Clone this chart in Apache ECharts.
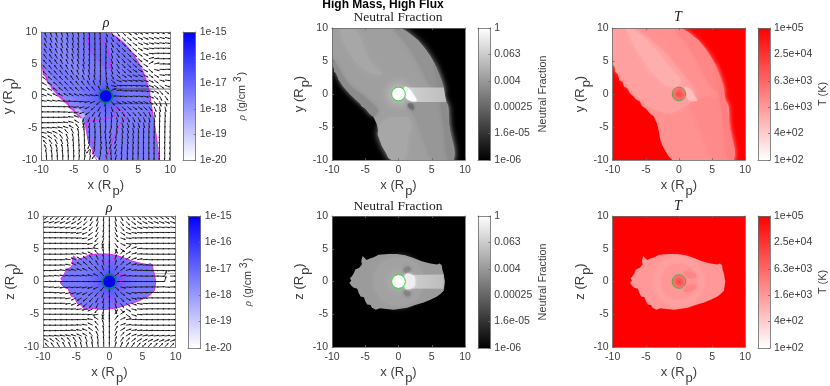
<!DOCTYPE html>
<html><head><meta charset="utf-8">
<script src="https://cdn.jsdelivr.net/npm/echarts@6/dist/echarts.min.js"></script>
<style>html,body{margin:0;padding:0;background:#fff}#c{width:830px;height:386px;filter:blur(0.35px)}</style>
</head><body><div id="c"></div>
<script>
// ---------- tick labels ----------
const AXIS_TICKS=[-10,-5,0,5,10];
const RHO_TICKS=['1e-20','1e-19','1e-18','1e-17','1e-16','1e-15'];
const NEUTRAL_TICKS=['1e-06','1.6e-05','0.00025','0.004','0.063','1'];
const TEMP_TICKS=['1e+02','4e+02','1.6e+03','6.3e+03','2.5e+04','1e+05'];
// ---------- region outlines, data units (R_p) ----------
const OUTLINE_XY=[[.23,10],[1.73,9.14],[2.98,8.14],[3.98,6.88],[4.99,5.37],[5.74,3.85],[6.34,2.09],[6.84,.08],[7.24,-2.44],[7.64,-4.96],[7.99,-7.48],[8.25,-10],[-1,-10],[-1.6,-9.4],[-2,-8.7],[-2.5,-7.8],[-2.8,-7],[-3.05,-5.6],[-3.3,-4.5],[-3.8,-3.4],[-4.4,-2.9],[-5,-2.2],[-5.6,-1.8],[-5.9,-1.1],[-6.5,-.8],[-6.8,-.4],[-7.4,.1],[-7.8,.9],[-8.3,1.1],[-8.5,1.8],[-9,2.1],[-9.2,3],[-9.7,3.4],[-9.6,4],[-10,4.6],[-10,10]];
const OUTLINE_XZ=[[-0.25,4.2],[1,4],[2.26,3.6],[3.5,3.1],[4.8,2.75],[5.8,2.6],[6.2,2.75],[6.5,2.5],[6.6,1.8],[6.8,1.1],[6.9,.5],[7,0],[6.9,-.7],[6.8,-1.4],[6.3,-1.9],[5.8,-2.3],[4.8,-2.8],[3.8,-3.2],[2.5,-3.6],[1.3,-4],[-.75,-4.3],[-1.8,-4.2],[-2.8,-4.1],[-3.4,-4.3],[-4,-4],[-4.2,-3.6],[-4.7,-3.5],[-5,-3],[-5.2,-2.4],[-5.7,-2.3],[-6,-1.7],[-6.2,-1.1],[-6.8,-.9],[-7.1,-.6],[-7.4,-.2],[-7.1,.1],[-7.3,.5],[-7,.8],[-6.7,1.3],[-6.5,1.85],[-5.9,2.1],[-5.5,2.6],[-5.6,3.1],[-5.4,3.9],[-4.8,3.3],[-4.3,3.5],[-3.7,3.7],[-3,4.1],[-1.5,4.2]];
// ---------- sub-regions ----------
const UPPER_BAND=[[-.8,10],[.23,10],[1.73,9.14],[3.98,6.88],[5.74,3.85],[6.84,.08],[5,1],[3,4.6],[1.2,7.5]];
const LOWER_BAND=[[1.5,-1.4],[6.9,-1],[7.64,-4.96],[8.25,-10],[5.2,-10],[3.8,-7],[2.5,-3.5]];
const LOWER_LOBE=[[-1,-10],[-2,-8.7],[-2.8,-7],[-3.05,-5.6],[-2,-4],[.5,-3.5],[1.8,-4],[1.4,-7],[.8,-10]];
const STREAK_Y=[[-8.6,10],[-6.8,10],[-4.2,5],[-2.5,3],[-5,3.6],[-7.5,6.5]];
const LEFT_STRIP=[[-10,4.6],[-8.3,1.1],[-5,-2.2],[-3.8,-3.4],[-3.1,-2.4],[-5,-.5],[-7.5,1.5],[-10,5.6]];
const RIM_Y=[[5.3,4.7],[5.74,3.85],[6.84,.08],[7.64,-4.96],[8.25,-10],[7.4,-10],[6.8,-5],[6.1,-.4]];
const BEAM_Y=[[1,.98],[6.8,.98],[7.2,-1.2],[1.8,-1.2]];
const CRESCENT_Y=[[.9,1],[1.7,.7],[2.3,-.2],[2.7,-1],[1.8,-1],[1.2,-.6]];
const DARK_BLOB=[[1.4,-1.6],[2.1,-1.5],[2.3,-2.3],[1.7,-2.2]];
const HOT_LOBE=[[-6.9,10],[-2.4,6.6],[.6,3],[2.5,.3],[1.6,-1.4],[-1.4,-3],[-4.4,-2],[-7,.3],[-9.2,3.2],[-10,4.7],[-10,10]];
const PALE_STREAK=[[-7.9,10],[-7.2,10],[-4,7.2],[-1.5,4.2],[.3,1.8],[-1.5,1.2],[-3,2.2],[-5.3,5]];
const PLUME_Y=[[-2.87,9.8],[-2.45,7.2],[-1.4,5.9],[.13,4.4],[.8,4.4],[.4,7.2],[-.3,10]];
const PALE_PATCH=[[-5,-2.2],[-3.8,-3.4],[-3.3,-3.7],[-3.3,-2.9],[-4.3,-2]];
const BEAM_Z=[[1,1],[6.8,1.05],[6.8,-1.1],[1,-1.05]];
const SPECK_Z=[[1,1],[2.2,.9],[2.5,-.1],[2.2,-.9],[1,-1]];
const WING_UP=[[.8,1.5],[1.5,1.4],[1.8,2.1],[1.1,2.2]];
const WING_DOWN=[[.8,-1.5],[1.5,-1.4],[1.8,-2.1],[1.1,-2.2]];
const T_WING_UP=[[.8,1.5],[2.4,1.2],[2.5,.6],[1.2,.7]];
const T_WING_DOWN=[[.8,-1.5],[2.4,-1.2],[2.5,-.6],[1.2,-.7]];
const RING_OUT=[[3.7,0],[3.2,1.9],[1.9,3.2],[0,3.7],[-1.9,3.2],[-3.2,1.9],[-3.7,0],[-3.2,-1.9],[-1.9,-3.2],[0,-3.7],[1.9,-3.2],[3.2,-1.9]];
const RING_IN=[[2.7,0],[2.3,1.4],[1.4,2.3],[0,2.7],[-1.4,2.3],[-2.3,1.4],[-2.7,0],[-2.3,-1.4],[-1.4,-2.3],[0,-2.7],[1.4,-2.3],[2.3,-1.4]];
// ---------- contour lines ----------
const CONTOUR_XY_RIGHT=OUTLINE_XY.slice(0,12);
const CONTOUR_XY_LEFT=OUTLINE_XY.slice(19,35);
const CONTOUR_XY_UP=[[-2.87,9.8],[-2.45,7.2],[-1.4,5.9],[.13,4.4],[.8,4.4],[.4,7.2],[-.9,9.3],[-1.1,10]];
const CONTOUR_XY_LOW1=[[-3.1,-3.6],[-2.3,-3.9],[-.2,-3.6],[1.4,-3.1],[1.6,-1.9],[2.7,-2.4],[3.2,-3.7],[2.7,-3.7],[2,-4.8],[1.1,-6.8],[.4,-8.9],[.1,-10]];
const CONTOUR_XY_LOW2=[[-3.1,-3.6],[-2.8,-6.8],[-1.9,-7.4],[-2.1,-8.9],[-1.4,-10]];
const CONTOUR_XZ_TOP=[[-1.4,3.33],[-.4,2.8],[.6,2.8],[.9,4]];
const CONTOUR_XZ_BOT=[[-1.4,-3.4],[-.4,-2.3],[.9,-2.9],[1.1,-3.7]];
const CONTOUR_XZ_RIGHT=[[.6,1.2],[2.1,1.1],[2.4,.7],[1.5,0],[2.4,-.7],[2.4,-1.2],[.9,-1.2]];
const TERMINATOR_UP=[[1,1.09],[10,1.09]];
const TERMINATOR_DOWN=[[1,-1.2],[10,-1.2]];
const TERMINATOR_Z=[[1,1.2],[10,1.2]];
// ---------- velocity field, arrow directions in degrees, rows from top to bottom ----------
const FIELD_COLS=[-10,-9.17,-8.33,-7.5,-6.67,-5.83,-5,-4.17,-3.33,-2.5,-1.67,-.83,0,.83,1.67,2.5,3.33,4.17,5,5.83,6.67,7.5,8.33,9.17,10];
const FIELD_ROWS=[10,9.17,8.33,7.5,6.67,5.83,5,4.17,3.33,2.5,1.67,.83,0,-.83,-1.67,-2.5,-3.33,-4.17,-5,-5.83,-6.67,-7.5,-8.33,-9.17,-10];
const ANGLES_XY=[
[110,110,108,106,104,102,100,98,97,96,95,96,-70,-62,-55,-45,-35,-28,-25,-22,-20,-18,-18,-15,-15],
[112,112,110,108,106,104,101,99,97,96,95,97,-75,-62,-52,-45,-38,-30,-25,-22,-20,-18,-15,-15,-12],
[115,114,112,110,108,105,103,100,98,96,94,96,-85,-65,-52,-45,-40,-34,-25,-20,-15,-12,-10,-10,-10],
[118,116,114,112,110,107,104,101,98,95,93,92,-85,-68,-55,-48,-42,-38,-30,-15,-8,-5,-5,-5,-5],
[122,120,118,115,112,109,106,103,99,96,93,91,-88,-72,-58,-50,-44,-40,-35,-25,-5,0,0,-2,-2],
[126,124,121,118,115,111,108,104,100,96,93,90,-88,-74,-60,-52,-46,-42,-38,-30,15,5,0,0,0],
[130,128,125,122,118,114,110,106,102,97,93,90,-90,-75,-60,-50,-45,-40,-36,-32,30,12,2,0,0],
[134,132,129,126,122,118,114,109,104,99,94,90,-85,-70,-55,-45,-38,-34,-30,-30,-40,-15,-3,0,0],
[140,138,134,130,126,122,118,113,108,102,96,90,-80,-60,-42,-32,-28,-25,-25,-28,-35,-30,-8,-3,-3],
[148,144,140,136,132,128,124,120,114,108,100,90,-70,-40,-22,-16,-14,-14,-16,-20,-28,-38,-15,-8,-6],
[155,150,146,142,138,134,130,128,124,118,110,95,-50,-15,-6,-5,-6,-8,-10,-14,-22,-35,-35,-18,-12],
[158,155,150,146,142,140,138,138,136,134,130,115,70,25,8,-2,-3,-4,-6,-10,-16,-30,-50,-40,-28],
[165,160,155,152,150,150,152,155,158,160,165,170,0,0,-5,-8,-8,-6,-8,-14,-24,-42,-62,-55,-45],
[172,170,168,168,170,175,178,182,186,192,200,220,-100,-50,-30,-25,-22,-20,-22,-26,-36,-55,-72,-68,-60],
[176,176,176,177,178,180,183,188,195,205,220,240,-95,-70,-50,-42,-38,-35,-36,-42,-55,-68,-80,-78,-75],
[178,178,178,178,178,180,185,190,200,215,235,250,-95,-80,-68,-58,-52,-50,-52,-58,-68,-78,-85,-85,-85],
[180,180,180,180,180,178,172,160,250,250,255,260,-95,-85,-78,-70,-65,-64,-65,-70,-78,-84,-88,-88,-88],
[180,180,180,178,176,172,164,148,255,262,265,268,-92,-88,-82,-75,-72,-72,-74,-78,-84,-88,-90,-90,-90],
[178,176,174,172,168,160,150,128,105,265,270,272,-100,-105,-85,-78,-75,-78,-82,-86,-88,-90,-92,-92,-92],
[172,168,162,155,145,132,118,105,95,-95,-90,-85,-95,-108,-100,-82,-78,-80,-84,-87,-89,-91,-93,-93,-93],
[160,152,145,135,125,115,105,98,90,-100,-95,-80,-85,-110,-110,-85,-80,-82,-85,-88,-90,-92,-94,-94,-94],
[140,132,125,118,112,105,98,92,88,-110,-100,-80,-80,-105,-112,-92,-84,-84,-86,-88,-90,-92,-94,-95,-95],
[120,116,112,108,104,98,93,88,85,-130,-115,-90,-75,-95,-108,-98,-88,-86,-88,-89,-90,-92,-94,-95,-96],
[105,102,100,98,96,92,88,85,82,80,-125,-105,-80,-90,-105,-98,-90,-88,-88,-89,-90,-92,-94,-95,-96],
[95,94,93,92,90,88,86,84,82,80,-135,-115,-90,-92,-100,-96,-90,-88,-88,-89,-90,-92,-94,-95,-96]];
const ANGLES_XZ=[
[218,218,220,222,224,226,230,234,238,244,254,265,-90,-75,-62,-52,-46,-42,-40,-38,-36,-36,-36,-36,-36],
[195,195,196,198,200,204,208,214,224,236,250,265,-90,-72,-55,-45,-36,-30,-26,-22,-20,-20,-20,-20,-20],
[185,185,186,188,190,193,197,203,212,225,245,262,-90,-68,-45,-32,-22,-16,-12,-10,-8,-8,-8,-8,-8],
[180,180,180,181,182,184,187,192,200,215,238,260,-90,-60,-32,-18,-10,-6,-4,-3,-2,-2,-2,-2,-2],
[180,180,180,180,180,181,182,185,190,205,230,255,-90,-50,-20,-8,-3,-1,0,0,0,0,0,0,0],
[180,180,180,180,180,180,180,181,183,190,215,250,-90,-55,-25,-10,-5,-2,0,0,0,0,0,0,0],
[180,180,180,180,180,180,180,180,178,175,170,110,90,-60,-35,35,20,5,0,0,0,0,0,0,0],
[180,180,180,180,180,178,176,172,165,155,130,100,90,70,50,30,15,5,2,0,0,0,0,0,0],
[180,180,180,180,180,172,160,150,140,128,115,100,90,72,52,35,20,10,3,0,0,0,0,0,0],
[180,180,180,180,178,170,155,150,140,130,118,102,90,72,48,28,15,8,3,0,0,0,0,0,0],
[180,180,180,176,172,165,165,160,155,145,130,110,90,60,35,18,8,4,2,0,0,0,-3,0,0],
[180,180,176,172,170,172,172,172,170,165,155,130,90,40,12,5,2,1,0,0,0,-3,70,0,0],
[180,180,178,178,180,180,180,180,180,180,180,180,0,0,0,0,0,0,0,0,0,0,75,5,0],
[180,180,184,188,190,188,188,188,190,195,205,230,-90,-40,-12,-5,-2,-1,0,0,0,2,-4,0,0],
[180,180,180,184,188,195,195,200,205,215,230,250,-90,-60,-35,-18,-8,-4,-2,0,0,2,2,0,0],
[180,180,180,180,182,190,205,210,220,230,242,258,-90,-72,-48,-28,-15,-8,-3,0,0,0,0,0,0],
[180,180,180,180,180,188,200,210,220,232,245,260,-90,-72,-52,-35,-20,-10,-3,0,0,0,0,0,0],
[180,180,180,180,180,182,184,188,195,205,230,260,-90,-70,-50,-30,-15,-5,-2,0,0,0,0,0,0],
[180,180,180,180,180,180,180,180,182,185,190,250,-90,60,35,-35,-20,-5,0,0,0,0,0,0,0],
[180,180,180,180,180,180,180,179,177,170,145,110,90,55,25,10,5,2,0,0,0,0,0,0,0],
[180,180,180,180,180,179,178,175,170,155,130,105,90,50,20,8,3,1,0,0,0,0,0,0,0],
[180,180,180,179,178,177,173,168,160,145,122,100,90,60,32,18,10,6,4,3,2,2,2,2,2],
[175,175,174,172,170,167,163,157,148,135,115,98,90,68,45,32,22,16,12,10,8,8,8,8,8],
[150,148,145,140,135,130,125,120,114,108,100,95,90,72,55,45,38,32,28,26,24,22,22,22,22],
[135,130,125,120,116,112,108,105,102,100,96,93,90,75,68,60,56,52,50,48,46,45,45,45,45]];
// ---------- colour maps: log10 value to colour ----------
const clamp=f=>Math.max(0,Math.min(1,f));
const rhoColor=v=>{const f=clamp((v+20)/5),c=Math.round(255*(1-f));return `rgb(${c},${c},255)`;};
const neutralColor=v=>{const c=Math.round(255*clamp((v+6)/6));return `rgb(${c},${c},${c})`;};
const tempColor=v=>{const c=Math.round(255*(1-clamp((v-2)/3)));return `rgb(255,${c},${c})`;};
const fade=col=>col.replace('rgb(','rgba(').replace(')',',0)');
const TEXT='#3c3c3c', MAG='#f020f0', GREEN='#37d837';
// ---------- layer lists per panel ----------
const RHO_XY_LAYERS=[
 {pts:OUTLINE_XY,v:-17.4},
 {pts:STREAK_Y,v:-17.6,blur:6,sm:.5},
 {pts:LEFT_STRIP,v:-17.6,blur:3,sm:.3},
 {pts:UPPER_BAND,v:-17.25,blur:4,sm:.3},
 {pts:PLUME_Y,v:-17.1,blur:4,sm:.5},
 {pts:OUTLINE_XY,c:[0,0],r:5,v0:-16.3,v1:-17.4},
 {pts:PALE_PATCH,v:-18.6,blur:2},
 {line:CONTOUR_XY_RIGHT,stroke:MAG,w:1},{line:CONTOUR_XY_LEFT,stroke:MAG,w:1.4},
 {line:CONTOUR_XY_UP,stroke:MAG,w:.9},{line:CONTOUR_XY_LOW1,stroke:MAG,w:.9},{line:CONTOUR_XY_LOW2,stroke:MAG,w:.9},
 {line:TERMINATOR_UP,stroke:'#333',w:.7},{line:TERMINATOR_DOWN,stroke:'#333',w:.7}];
const RHO_XZ_LAYERS=[
 {pts:OUTLINE_XZ,v:-17.35},
 {pts:OUTLINE_XZ,c:[0,0],r:5,v0:-16.2,v1:-17.35},
 {line:OUTLINE_XZ.concat([OUTLINE_XZ[0]]),stroke:MAG,w:1},
 {line:CONTOUR_XZ_TOP,stroke:MAG,w:.9},{line:CONTOUR_XZ_BOT,stroke:MAG,w:.9},{line:CONTOUR_XZ_RIGHT,stroke:MAG,w:.9},
 {line:TERMINATOR_Z,stroke:'#888',w:.6}];
const NEUTRAL_XY_LAYERS=[
 {pts:OUTLINE_XY,v:-2.25},
 {pts:UPPER_BAND,v:-2.55,blur:6,sm:.4},
 {pts:LOWER_BAND,v:-2.45,blur:6,sm:.4},
 {pts:RIM_Y,v:-2.7,blur:5,sm:.4},
 {pts:LOWER_LOBE,v:-2.08,blur:6,sm:.6},
 {pts:STREAK_Y,v:-2.08,blur:7,sm:.5},
 {pts:LEFT_STRIP,v:-2.7,blur:5,sm:.3},
 {pts:OUTLINE_XY,c:[0,0],r:3.2,v0:-1.1,v1:-2.25},
 {pts:BEAM_Y,grad:[-1.05,-1.55]},
 {pts:DARK_BLOB,v:-3.4,blur:3,sm:.5},
 {pts:CRESCENT_Y,v:-.05,blur:2,sm:.4}];
const NEUTRAL_XZ_LAYERS=[
 {pts:OUTLINE_XZ,v:-2.35},
 {pts:RING_OUT,v:-2.18,blur:6,sm:.6},
 {pts:OUTLINE_XZ,c:[0,0],r:2.8,v0:-1.7,v1:-2.18},
 {pts:WING_UP,v:-2.9,blur:4,sm:.6},{pts:WING_DOWN,v:-2.9,blur:4,sm:.6},
 {pts:BEAM_Z,grad:[-1.1,-1.55]},
 {pts:SPECK_Z,v:-.4,blur:3,sm:.5}];
const TEMP_XY_LAYERS=[
 {pts:OUTLINE_XY,v:3.3},
 {pts:UPPER_BAND,v:3.42,blur:5,sm:.3},
 {pts:LOWER_BAND,v:3.38,blur:5,sm:.4},
 {pts:RIM_Y,v:3.5,blur:4,sm:.4},
 {pts:HOT_LOBE,v:3.12,blur:4,sm:.15},
 {pts:PALE_STREAK,v:2.95,blur:5,sm:.5},
 {pts:CRESCENT_Y,v:2.75,blur:2,sm:.4}];
const TEMP_XZ_LAYERS=[
 {pts:OUTLINE_XZ,v:3.2},
 {pts:RING_OUT,v:3.12,blur:4,sm:.6},
 {pts:RING_IN,v:3.22,blur:4,sm:.6},
 {pts:T_WING_UP,v:3.42,blur:4,sm:.6},{pts:T_WING_DOWN,v:3.42,blur:4,sm:.6}];
// ---------- panels ----------
const PANELS=[
 {rect:[41.3,32,129,128],bar:[183,32,12.7,128],title:'ρ',italic:1,tx:106,ty:23,yName:'y',map:rhoColor,layers:RHO_XY_LAYERS,angles:ANGLES_XY,ticks:RHO_TICKS,planet:'rho',barName:'{i|ρ}{a| (g/cm}{s|3}{a|)}',barGap:38},
 {rect:[332,28,133,132],bar:[478,28,12.3,132],title:'Neutral Fraction',tx:398,ty:17,yName:'y',map:neutralColor,bg:'#000',layers:NEUTRAL_XY_LAYERS,ticks:NEUTRAL_TICKS,planet:'neutral',barName:'{a|Neutral Fraction}',barGap:47},
 {rect:[612.7,28,132.5,132],bar:[758,28,12.7,132],title:'T',italic:1,tx:678,ty:17,yName:'y',map:tempColor,bg:'#f00',layers:TEMP_XY_LAYERS,ticks:TEMP_TICKS,planet:'temp',barName:'{a|T (K)}',barGap:48},
 {rect:[43,216,132.7,132],bar:[188,216,12.7,132],title:'ρ',italic:1,tx:109,ty:208,yName:'z',map:rhoColor,layers:RHO_XZ_LAYERS,angles:ANGLES_XZ,ticks:RHO_TICKS,planet:'rho',barName:'{i|ρ}{a| (g/cm}{s|3}{a|)}',barGap:39},
 {rect:[332,216,133,132],bar:[478,216,12.3,132],title:'Neutral Fraction',tx:398,ty:206,yName:'z',map:neutralColor,bg:'#000',layers:NEUTRAL_XZ_LAYERS,ticks:NEUTRAL_TICKS,planet:'neutral',barName:'{a|Neutral Fraction}',barGap:47},
 {rect:[612.7,216,132.5,132],bar:[758,216,12.7,132],title:'T',italic:1,tx:678,ty:206,yName:'z',map:tempColor,bg:'#f00',layers:TEMP_XZ_LAYERS,ticks:TEMP_TICKS,planet:'temp',barName:'{a|T (K)}',barGap:48}];
const FONT='"Liberation Sans"';
const grids=[],xAxes=[],yAxes=[],series=[],titles=[];
const lineStyle={color:'#6a6a6a',width:.8};
const nameRich={a:{fontFamily:FONT,fontSize:13,color:TEXT},b:{fontFamily:FONT,fontSize:13,color:TEXT,padding:[12,0,0,1]}};
const barRich={a:{fontFamily:FONT,fontSize:10.8,color:TEXT},i:{fontFamily:'"Liberation Serif"',fontStyle:'italic',fontSize:11,color:TEXT},
  s:{fontFamily:FONT,fontSize:10,color:TEXT,padding:[0,1,6,3]}};
function addAxes(g,mainX,mainY,xCfg,yCfg){
  const base={axisLine:{show:true,onZero:false,lineStyle},axisTick:{show:true,inside:true,length:2,lineStyle},splitLine:{show:false},z:6,silent:true,nameMoveOverlap:false};
  xAxes.push(Object.assign({},base,xCfg,{gridIndex:g,position:'bottom',axisLabel:Object.assign({show:true,fontFamily:FONT,fontSize:10.5,color:TEXT,margin:5},xCfg.axisLabel)},mainX||{}));
  const xi=xAxes.length-1;
  xAxes.push(Object.assign({},base,xCfg,{gridIndex:g,position:'top',axisLabel:{show:false},name:''}));
  yAxes.push(Object.assign({},base,yCfg,{gridIndex:g,position:mainY&&mainY.position||'left',axisLabel:Object.assign({show:true,fontFamily:FONT,fontSize:10.5,color:TEXT,margin:4},yCfg.axisLabel)},mainY||{}));
  const yi=yAxes.length-1;
  yAxes.push(Object.assign({},base,yCfg,{gridIndex:g,position:mainY&&mainY.position==='right'?'left':'right',axisLabel:{show:false},name:'',axisTick:{show:false}}));
  return [xi,yi];
}
function polyStyle(api,l,map){
  if(l.grad) return {fill:{type:'linear',x:0,y:0,x2:1,y2:0,colorStops:[{offset:0,color:map(l.grad[0])},{offset:1,color:map(l.grad[1])}]}};
  if(l.c){const c=api.coord(l.c),r=api.size([l.r,0])[0];
    return {fill:new echarts.graphic.RadialGradient(c[0],c[1],r,[{offset:0,color:map(l.v0)},{offset:1,color:fade(map(l.v1))}],true)};}
  const col=map(l.v);const s={fill:col};if(l.blur){s.shadowBlur=l.blur;s.shadowColor=col;}return s;
}
PANELS.forEach(p=>{
  const g=grids.length;
  grids.push({left:p.rect[0],top:p.rect[1],width:p.rect[2],height:p.rect[3],show:true,borderWidth:0,backgroundColor:p.bg||'#fff',containLabel:false});
  const lim={type:'value',min:AXIS_TICKS[0],max:AXIS_TICKS[4],interval:AXIS_TICKS[1]-AXIS_TICKS[0]};
  const [xi,yi]=addAxes(g,{name:'{a|x (R}{b|p}{a|)}',nameLocation:'middle',nameGap:13,nameTextStyle:{rich:nameRich}},
    {name:`{a|${p.yName} (R}{b|p}{a|)}`,nameLocation:'middle',nameGap:20,nameRotate:90,nameTextStyle:{rich:nameRich}},lim,lim);
  series.push({type:'custom',coordinateSystem:'cartesian2d',xAxisIndex:xi,yAxisIndex:yi,clip:true,silent:true,z:2,animation:false,
    data:p.layers.map((_,i)=>[0,0,i]),
    renderItem:(params,api)=>{
      const l=p.layers[api.value(2)];
      if(l.line) return {type:'polyline',shape:{points:l.line.map(q=>api.coord(q))},style:{stroke:l.stroke,lineWidth:l.w,fill:null}};
      return {type:'polygon',shape:{points:l.pts.map(q=>api.coord(q)),smooth:l.sm||0},style:polyStyle(api,l,p.map)};
    }});
  if(p.angles){
    const cells=[];
    FIELD_ROWS.forEach((y,r)=>FIELD_COLS.forEach((x,c)=>cells.push([x,y,p.angles[r][c]])));
    series.push({type:'custom',coordinateSystem:'cartesian2d',xAxisIndex:xi,yAxisIndex:yi,clip:true,silent:true,z:3,animation:false,data:cells,
      renderItem:(params,api)=>{
        const x=api.value(0),y=api.value(1),a=api.value(2)*Math.PI/180,len=.84;
        const s=api.coord([x,y]),e=api.coord([x+len*Math.cos(a),y+len*Math.sin(a)]);
        const ang=Math.atan2(e[1]-s[1],e[0]-s[0]),h=2,sp=.42;
        return {type:'group',children:[
          {type:'line',shape:{x1:s[0],y1:s[1],x2:e[0],y2:e[1]},style:{stroke:'#1c1c1c',lineWidth:.95}},
          {type:'polygon',shape:{points:[e,[e[0]-h*Math.cos(ang-sp),e[1]-h*Math.sin(ang-sp)],[e[0]-h*Math.cos(ang+sp),e[1]-h*Math.sin(ang+sp)]]},style:{fill:'#101010'}}]};
      }});
  }
  // planet disc and ring
  series.push({type:'custom',coordinateSystem:'cartesian2d',xAxisIndex:xi,yAxisIndex:yi,silent:true,z:4,animation:false,data:[[0,0]],
    renderItem:(params,api)=>{
      const c=api.coord([0,0]),r=api.size([1.03,0])[0],kids=[];
      if(p.planet==='rho') kids.push({type:'circle',shape:{cx:c[0],cy:c[1],r:r},style:{fill:'#0000f0',stroke:'#0a7a70',lineWidth:1.6}});
      if(p.planet==='neutral') kids.push({type:'circle',shape:{cx:c[0],cy:c[1],r:r},style:{fill:'#fff',stroke:GREEN,lineWidth:1}});
      if(p.planet==='temp') kids.push({type:'circle',shape:{cx:c[0],cy:c[1],r:r},style:{fill:new echarts.graphic.RadialGradient(c[0],c[1],r,[{offset:0,color:tempColor(4.2)},{offset:1,color:tempColor(3.55)}],true),stroke:'#55a848',lineWidth:1}});
      return {type:'group',children:kids};
    }});
  // colour bar
  const bg=grids.length;
  grids.push({left:p.bar[0],top:p.bar[1],width:p.bar[2],height:p.bar[3],show:false});
  const [bx,by]=addAxes(bg,{axisTick:{show:false},axisLabel:{show:false}},
    {position:'right',name:p.barName,nameLocation:'middle',nameGap:p.barGap,nameRotate:90,nameTextStyle:{rich:barRich},
     axisLabel:{show:true,fontFamily:FONT,fontSize:10.5,color:TEXT,margin:4,formatter:v=>p.ticks[v]}},
    {type:'value',min:0,max:1,interval:1},{type:'value',min:0,max:5,interval:1});
  const lo=p.map===rhoColor?-20:p.map===neutralColor?-6:2,hi=p.map===rhoColor?-15:p.map===neutralColor?0:5;
  series.push({type:'custom',coordinateSystem:'cartesian2d',xAxisIndex:bx,yAxisIndex:by,silent:true,z:2,animation:false,data:[[0,0]],
    renderItem:(params,api)=>{
      const a=api.coord([0,5]),b=api.coord([1,0]);
      return {type:'rect',shape:{x:a[0],y:a[1],width:b[0]-a[0],height:b[1]-a[1]},
        style:{fill:{type:'linear',x:0,y:0,x2:0,y2:1,colorStops:[{offset:0,color:p.map(hi)},{offset:1,color:p.map(lo)}]}}};
    }});
  titles.push({text:p.title,left:p.tx,top:p.ty,textAlign:'center',textVerticalAlign:'middle',
    textStyle:{fontFamily:'"Liberation Serif"',fontStyle:p.italic?'italic':'normal',fontWeight:'normal',fontSize:p.italic?14:13.5,color:'#222'},padding:0});
});
titles.push({text:'High Mass, High Flux',left:383,top:5,textAlign:'center',textVerticalAlign:'middle',padding:0,
  textStyle:{fontFamily:FONT,fontWeight:'bold',fontSize:12,color:'#000'}});
const chart=echarts.init(document.getElementById('c'),null,{renderer:'canvas'});
chart.setOption({animation:false,backgroundColor:'#fff',title:titles,grid:grids,xAxis:xAxes,yAxis:yAxes,series});
</script></body></html>
